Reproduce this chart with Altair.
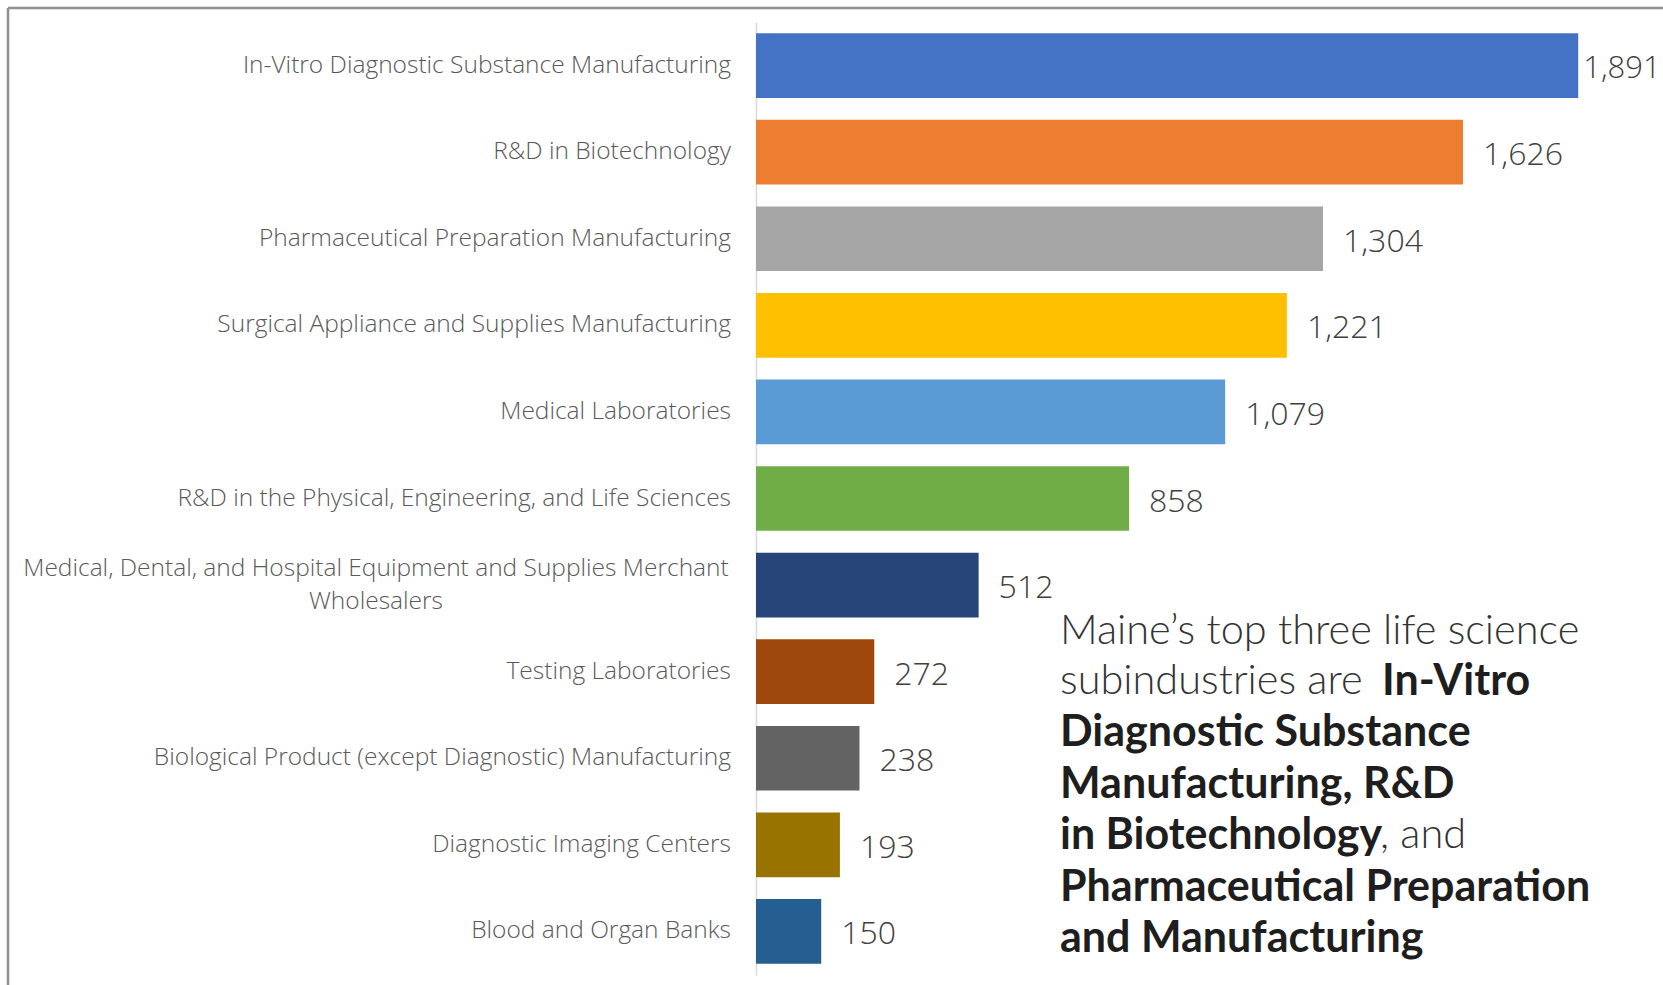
import altair as alt
import pandas as pd

categories = [
    "In-Vitro Diagnostic Substance Manufacturing",
    "R&D in Biotechnology",
    "Pharmaceutical Preparation Manufacturing",
    "Surgical Appliance and Supplies Manufacturing",
    "Medical Laboratories",
    "R&D in the Physical, Engineering, and Life Sciences",
    "Medical, Dental, and Hospital Equipment and Supplies Merchant\nWholesalers",
    "Testing Laboratories",
    "Biological Product (except Diagnostic) Manufacturing",
    "Diagnostic Imaging Centers",
    "Blood and Organ Banks",
]
values = [1891, 1626, 1304, 1221, 1079, 858, 512, 272, 238, 193, 150]
colors = ["#4472C4", "#ED7D31", "#A5A5A5", "#FFC000", "#5B9BD5", "#70AD47",
          "#264478", "#9E480E", "#636363", "#997300", "#255E91"]

df = pd.DataFrame({"cat": categories, "value": values})
df["label"] = df["value"].map(lambda v: f"{v:,}")
df["wrapped"] = df["cat"].str.contains("\n")

W, H = 907, 953
LEFT, TOP = 756, 22

y_enc = alt.Y("cat:N", sort=categories,
              scale=alt.Scale(paddingInner=0.253, paddingOuter=0.13),
              axis=alt.Axis(labels=False, ticks=False, title=None,
                            domainColor="#d9d9d9", domainWidth=1.5))
x_enc = alt.X("value:Q", scale=alt.Scale(domain=[0, 2086], nice=False), axis=None)

base = alt.Chart(df)

bars = base.mark_bar().encode(
    x=x_enc, y=y_enc,
    color=alt.Color("cat:N", scale=alt.Scale(domain=categories, range=colors), legend=None),
)

VFS = 32
val_first = base.transform_filter(alt.datum.value >= 1800).mark_text(
    align="left", baseline="middle", dx=5, dy=3, font="Open Sans", fontWeight=300,
    fontSize=31, color="#404040").encode(x=x_enc, y=y_enc, text="label:N")
val_rest = base.transform_filter(alt.datum.value < 1800).mark_text(
    align="left", baseline="middle", dx=20, dy=3, font="Open Sans", fontWeight=300,
    fontSize=VFS, color="#404040").encode(x=x_enc, y=y_enc, text="label:N")

CFS = 24.5
cat_single = base.transform_filter(~alt.datum.wrapped).mark_text(
    align="right", baseline="middle", font="Open Sans", fontWeight=300,
    fontSize=CFS, color="#595959").encode(x=alt.value(-25), y=y_enc, text="cat:N")
cat_wrap = base.transform_filter(alt.datum.wrapped).mark_text(
    align="center", baseline="middle", font="Open Sans", fontWeight=300,
    fontSize=CFS, color="#595959", lineBreak="\n", lineHeight=33, dy=-16).encode(
    x=alt.value(-380), y=y_enc, text="cat:N")

one = alt.Data(values=[{"a": 1}])
frame_top = alt.Chart(one).mark_rule(color="#8f8f8f", strokeWidth=2.5).encode(
    x=alt.value(8 - LEFT), x2=alt.value(W), y=alt.value(8 - TOP))
frame_left = alt.Chart(one).mark_rule(color="#8f8f8f", strokeWidth=2.5).encode(
    x=alt.value(8 - LEFT), y=alt.value(8 - TOP), y2=alt.value(H + 20))

AX = 1060 - LEFT
lines_y = [610, 660, 711, 763, 814, 866, 917]

def txt(s, x, y, bold):
    return alt.Chart(one).mark_text(
        align="left", baseline="middle", font="Lato",
        fontWeight=700 if bold else 300, fontSize=43 if bold else 41.5,
        color="#1e1e1e" if bold else "#333333").encode(
        x=alt.value(x), y=alt.value(y), text=alt.value(s))

annot = [
    txt("Maine\u2019s top three life science", AX, lines_y[0], False),
    txt("subindustries are", AX, lines_y[1], False),
    txt("In-Vitro", 1382 - LEFT, lines_y[1], True),
    txt("Diagnostic Substance", AX, lines_y[2], True),
    txt("Manufacturing, R&D", AX, lines_y[3], True),
    txt("in Biotechnology", AX, lines_y[4], True),
    txt(", and", 1380 - LEFT, lines_y[4], False),
    txt("Pharmaceutical Preparation", AX, lines_y[5], True),
    txt("and Manufacturing", AX, lines_y[6], True),
]

chart = alt.layer(frame_top, frame_left, bars, val_first, val_rest, cat_single, cat_wrap, *annot).properties(
    width=W, height=H,
    autosize=alt.AutoSizeParams(type="none"),
    padding={"left": LEFT, "top": TOP, "right": 0, "bottom": 10},
    background="white",
).configure_view(stroke=None)

chart.save("out.html", embed_options={"renderer": "svg", "actions": False})
